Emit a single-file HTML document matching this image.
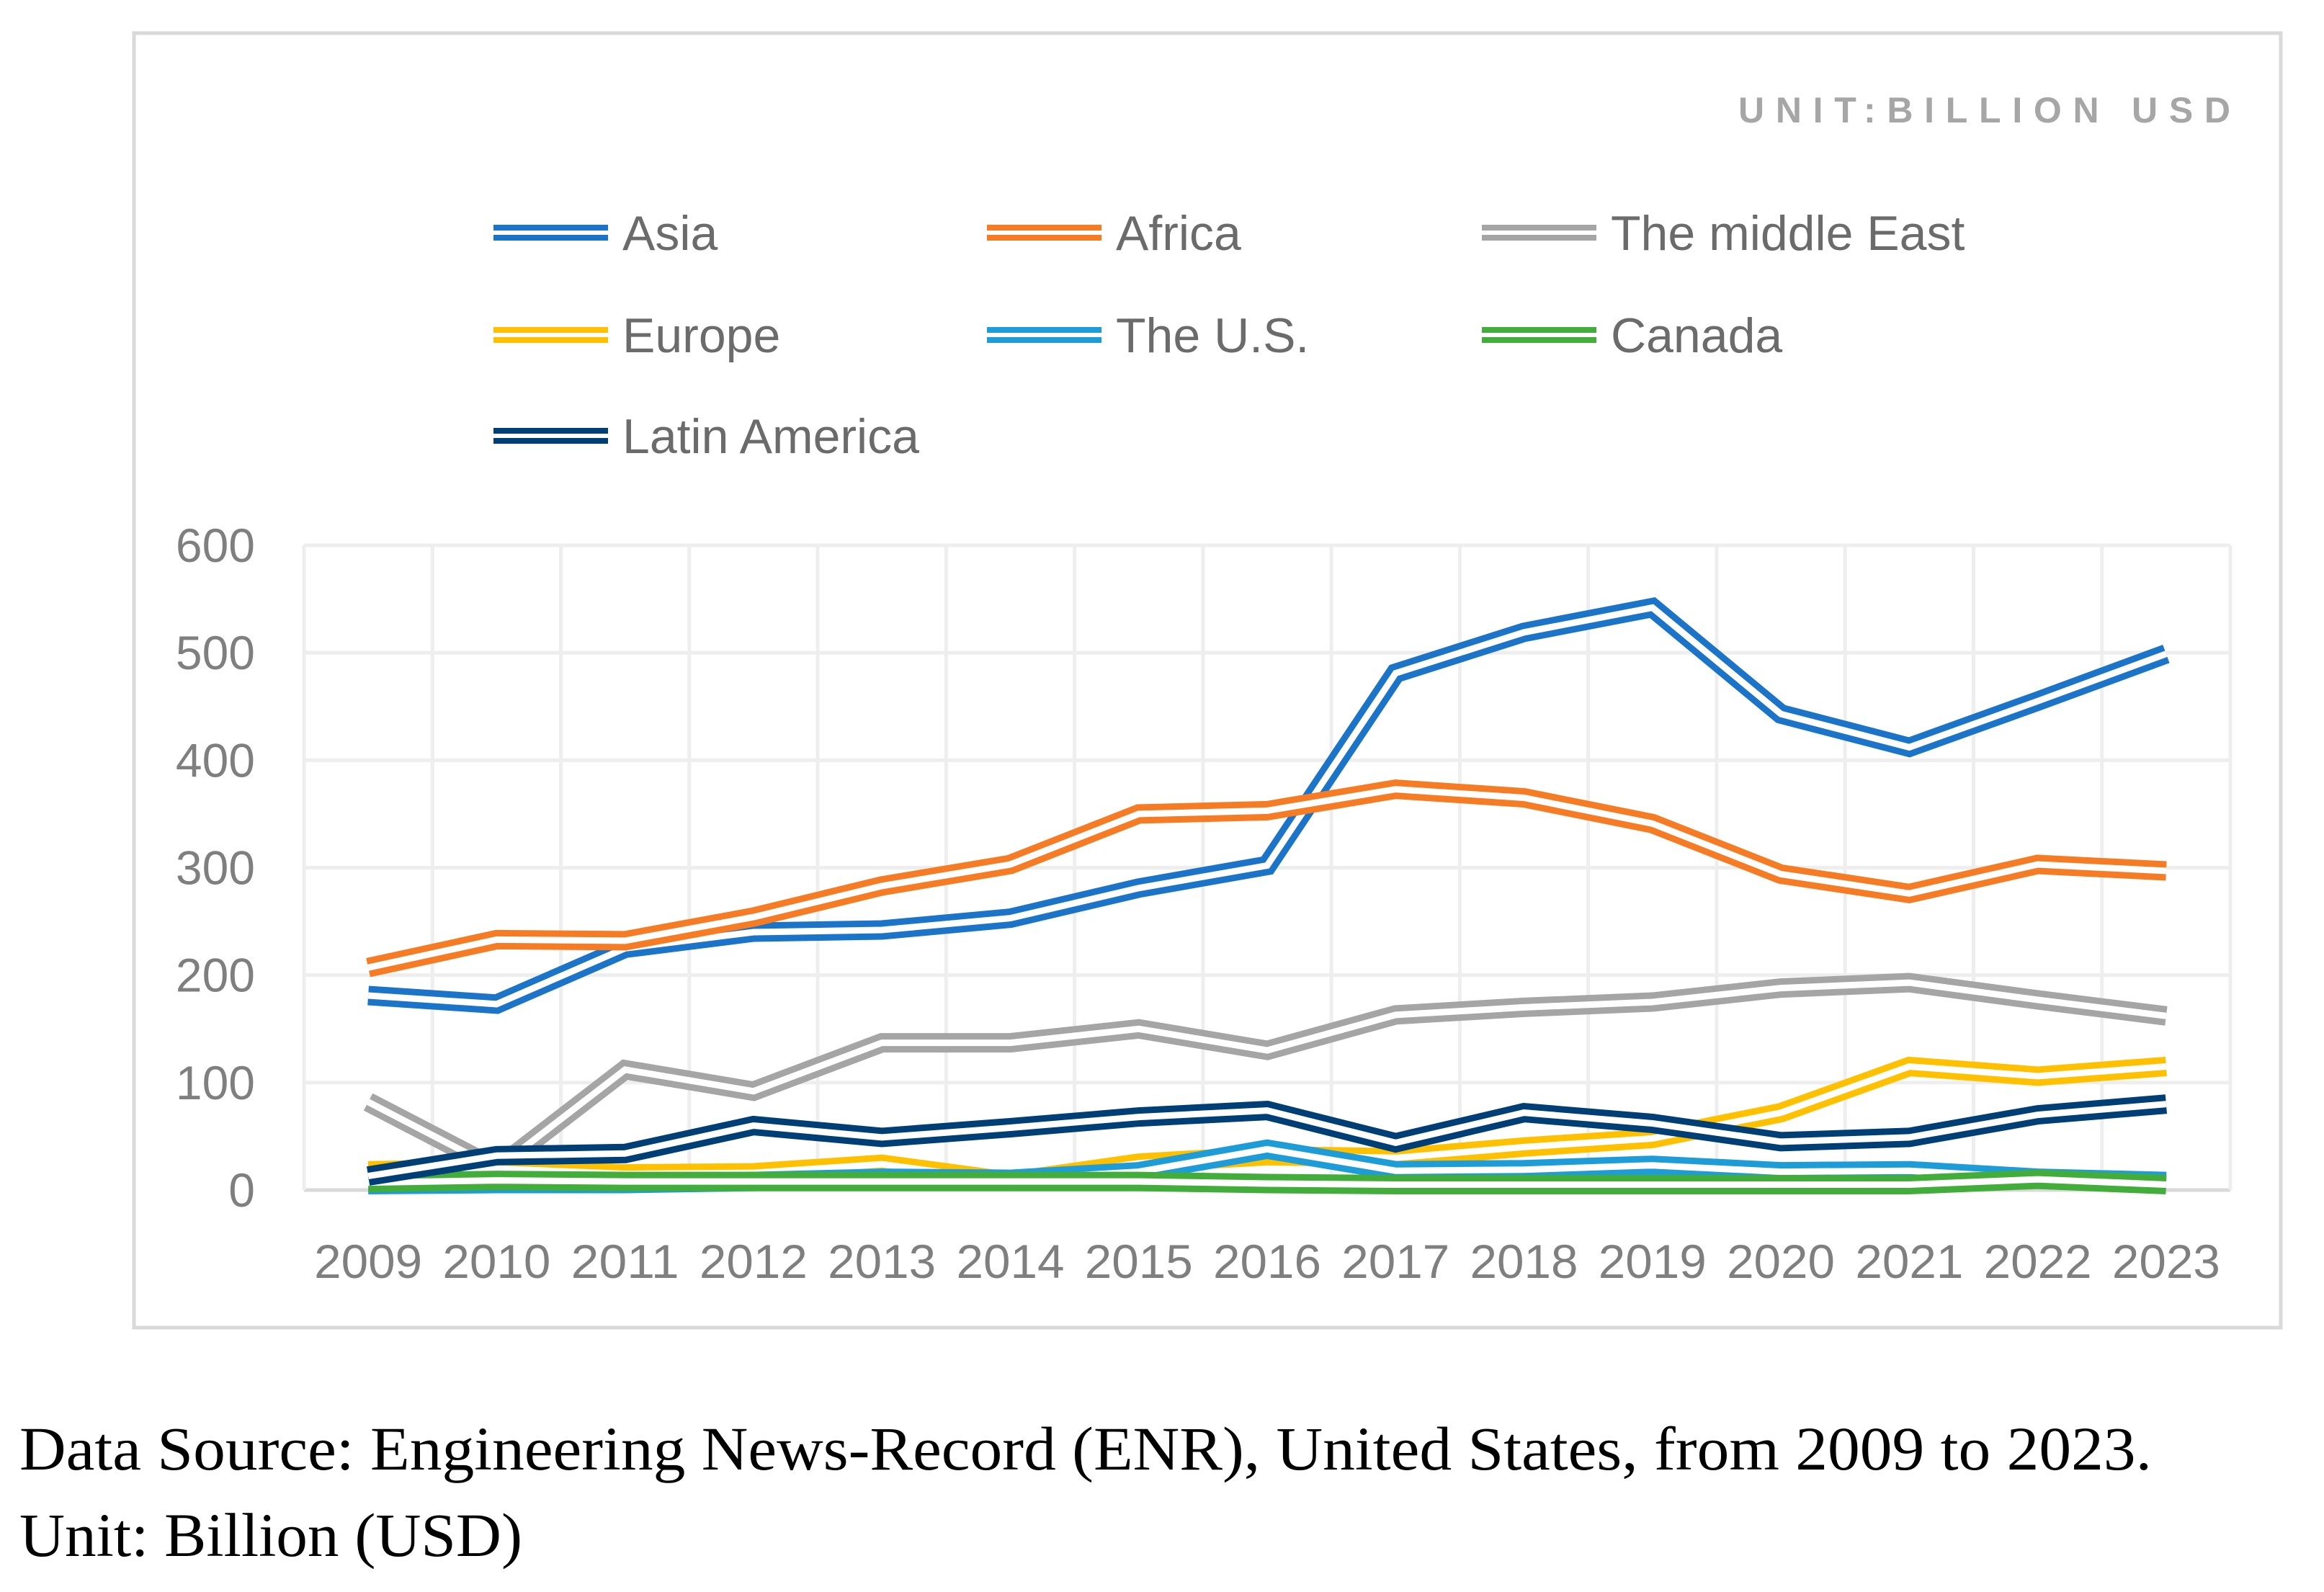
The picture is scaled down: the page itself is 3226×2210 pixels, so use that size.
<!DOCTYPE html>
<html><head><meta charset="utf-8"><style>
html,body{margin:0;padding:0;background:#fff;}
svg{display:block;}
</style></head><body>
<svg id="chart" width="3226" height="2210" viewBox="0 0 3226 2210" xmlns="http://www.w3.org/2000/svg">
<rect x="186" y="46" width="2980" height="1797" fill="#fff" stroke="#d9d9d9" stroke-width="5"/>
<text x="3111" y="170" text-anchor="end" font-family="Liberation Sans, sans-serif" font-weight="bold" font-size="50" letter-spacing="15" fill="#a6a6a6" textLength="698" lengthAdjust="spacing">UNIT:BILLION USD</text>
<g id="grid"></g>
<g id="axes"></g>
<g id="series"></g>
<g id="legend"></g>
<text x="27" y="2040" font-family="Liberation Serif, serif" font-size="86" fill="#000" textLength="2960" lengthAdjust="spacingAndGlyphs">Data Source: Engineering News-Record (ENR), United States, from 2009 to 2023.</text>
<text x="27" y="2160" font-family="Liberation Serif, serif" font-size="86" fill="#000" textLength="698" lengthAdjust="spacingAndGlyphs">Unit: Billion (USD)</text>
</svg>
<script>
const years = ["2009","2010","2011","2012","2013","2014","2015","2016","2017","2018","2019","2020","2021","2022","2023"];
const yTicks = [0,100,200,300,400,500,600];
const seriesNames = ["Asia","Africa","The middle East","Europe","The U.S.","Canada","Latin America"];
const asia = [181,173,225,240,242,253,281,302,481,519,542,443,412,455,499];
const africa = [207,233,232,254,283,303,350,353,373,365,341,294,276,303,297];
const middleEast = [82,20,112,92,137,137,150,130,163,170,175,188,193,177,162];
const europe = [18,20,15,16,24,8,25,32,30,40,48,72,115,106,115];
const us = [5,6,6,8,11,10,17,38,18,19,23,17,18,11,8];
const canada = [7,9,8,8,8,8,8,6,5,5,5,5,5,10,5];
const latin = [13,32,34,60,49,58,68,74,44,72,62,45,49,70,80];
const colors = ["#1b74c8","#f57c25","#a5a5a5","#ffc000","#1d9cd8","#43ad3b","#003f76"];

const NS="http://www.w3.org/2000/svg";
const L=422, R=3096, T=757, B=1652, maxV=600;
const band=(R-L)/years.length;
function xPos(i){return L+band*(i+0.5);}
function yPos(v){return B-(v/maxV)*(B-T);}
function mk(tag,attrs,parent){const e=document.createElementNS(NS,tag);for(const k in attrs)e.setAttribute(k,attrs[k]);parent.appendChild(e);return e;}
const grid=document.getElementById('grid'), axes=document.getElementById('axes'), ser=document.getElementById('series'), leg=document.getElementById('legend');

yTicks.forEach(t=>{
  const g=mk('line',{x1:L,x2:R,y1:yPos(t),y2:yPos(t),stroke:t===0?'#d9d9d9':'#eeeeee','stroke-width':5},grid);
  
  
  const tx=mk('text',{x:354,y:yPos(t)+23,'text-anchor':'end','font-family':'Liberation Sans, sans-serif','font-size':66,fill:'#7f7f7f'},axes);
  tx.textContent=t;
  
  
});
for(let i=0;i<=years.length;i++){
  const x=L+band*i;
  const g=mk('line',{x1:x,x2:x,y1:T,y2:B,stroke:'#eeeeee','stroke-width':5},grid);
  
  
}
years.forEach((y,i)=>{
  const tx=mk('text',{x:xPos(i),y:1774,'text-anchor':'middle','font-family':'Liberation Sans, sans-serif','font-size':66,fill:'#7f7f7f',textLength:150,lengthAdjust:'spacingAndGlyphs'},axes);
  tx.textContent=y;
  
  
});

const all=[asia,africa,middleEast,europe,us,canada,latin];
all.forEach((vals,s)=>{
  const d=vals.map((v,i)=>(i?'L':'M')+xPos(i).toFixed(1)+' '+yPos(v).toFixed(1)).join(' ');
  const outer=mk('path',{d:d,fill:'none',stroke:colors[s],'stroke-width':27,'stroke-linejoin':'miter'},ser);
  
  
  const inner=mk('path',{d:d,fill:'none',stroke:'#fff','stroke-width':9,'stroke-linejoin':'miter'},ser);
  
  
});

const lx=[685,1370,2057], ly=[323,465,605];
seriesNames.forEach((n,s)=>{
  const cx=lx[s%3], cy=ly[Math.floor(s/3)];
  const a=mk('line',{x1:cx,x2:cx+159,y1:cy,y2:cy,stroke:colors[s],'stroke-width':22},leg);
  
  
  const b=mk('line',{x1:cx,x2:cx+159,y1:cy,y2:cy,stroke:'#fff','stroke-width':6},leg);
  
  
  const t=mk('text',{x:cx+179,y:cy+24,'font-family':'Liberation Sans, sans-serif','font-size':68,fill:'#6b6b6b'},leg);
  t.textContent=n;
  
  
});
</script>
</body></html>
